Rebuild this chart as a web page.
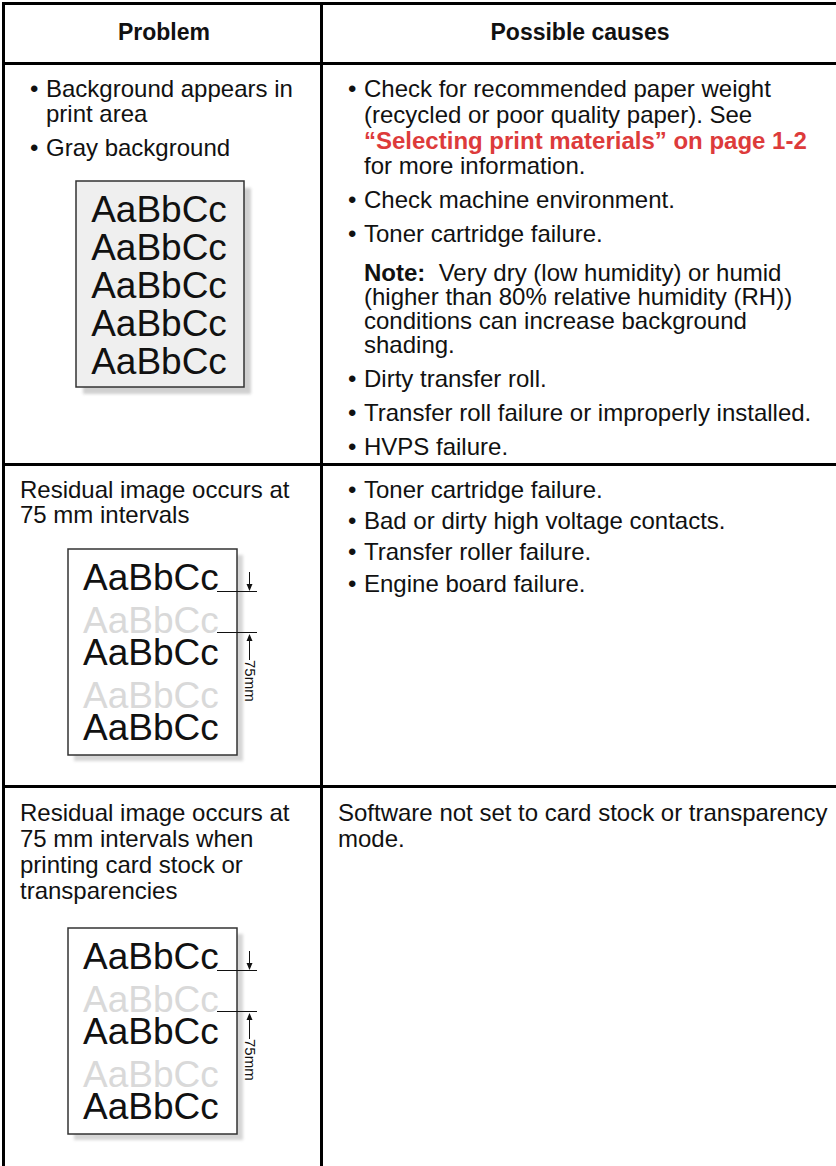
<!DOCTYPE html>
<html>
<head>
<meta charset="utf-8">
<script src="https://cdn.jsdelivr.net/npm/chart.js@4.4.1/dist/chart.umd.min.js"></script>
<style>
body { margin: 0; background: #fff; }
#page { position: relative; width: 836px; height: 1166px; overflow: hidden;
        font-family: "Liberation Sans", Arial, Helvetica, sans-serif; color: #111; }
.rule { position: absolute; background: #000; }
.ln { position: absolute; white-space: nowrap; font-size: 24px; line-height: 25px; }
.hd { position: absolute; white-space: nowrap; font-size: 23px; font-weight: bold; line-height: 25px; transform: translateX(-50%); }
.ref { color: #dd3b3b; font-weight: bold; }
svg { position: absolute; overflow: visible; }
</style>
</head>
<body>
<div id="page"></div>
<script>
// table content
var headers = ['Problem', 'Possible causes'];

var problems = [
    [{ type: 'bullet', lines: ['Background appears in', 'print area'] },
     { type: 'bullet', lines: ['Gray background'] }],
    [{ type: 'plain', lines: ['Residual image occurs at', '75 mm intervals'] }],
    [{ type: 'plain', lines: ['Residual image occurs at', '75 mm intervals when', 'printing card stock or', 'transparencies'] }]
];

var causes = [
    [{ type: 'bullet', lines: ['Check for recommended paper weight', '(recycled or poor quality paper). See',
                              '<span class="ref">“Selecting print materials” on page 1-2</span>', 'for more information.'] },
     { type: 'bullet', lines: ['Check machine environment.'] },
     { type: 'bullet', lines: ['Toner cartridge failure.'] },
     { type: 'note', lines: ['<b>Note:</b>&nbsp; Very dry (low humidity) or humid', '(higher than 80% relative humidity (RH))',
                            'conditions can increase background', 'shading.'] },
     { type: 'bullet', lines: ['Dirty transfer roll.'] },
     { type: 'bullet', lines: ['Transfer roll failure or improperly installed.'] },
     { type: 'bullet', lines: ['HVPS failure.'] }],
    [{ type: 'bullet', lines: ['Toner cartridge failure.'] },
     { type: 'bullet', lines: ['Bad or dirty high voltage contacts.'] },
     { type: 'bullet', lines: ['Transfer roller failure.'] },
     { type: 'bullet', lines: ['Engine board failure.'] }],
    [{ type: 'plain', lines: ['Software not set to card stock or transparency', 'mode.'] }]
];

var sampleText = 'AaBbCc';
var ghostRows = [false, true, false, true, false];
var intervalLabel = '75mm';

// layout
var leftY = [[88, 113, 147], [489, 514], [812, 838, 864, 890]];
var rightY = [[88, 114, 140, 165, 199, 233, 272, 296, 320, 344, 378, 412, 446],
              [489, 520, 551, 583],
              [812, 838]];

var page = document.getElementById('page');

function rule(x, y, w, h) {
    var d = document.createElement('div');
    d.className = 'rule';
    d.style.left = x + 'px'; d.style.top = y + 'px';
    d.style.width = w + 'px'; d.style.height = h + 'px';
    page.appendChild(d);
}

function line(x, yc, html, cls) {
    var d = document.createElement('div');
    d.className = cls || 'ln';
    d.style.left = x + 'px';
    d.style.top = (yc - 12) + 'px';
    d.innerHTML = html;
    page.appendChild(d);
}

function cell(items, ys, x0) {
    var k = 0;
    items.forEach(function (it) {
        it.lines.forEach(function (t, i) {
            if (it.type === 'bullet') {
                if (i === 0) line(x0 + 10, ys[k], '•');
                line(x0 + 26, ys[k], t);
            } else if (it.type === 'note') {
                line(x0 + 26, ys[k], t);
            } else {
                line(x0, ys[k], t);
            }
            k++;
        });
    });
}

// grid lines
rule(2, 2, 840, 3);
rule(2, 2, 3, 1170);
rule(320, 2, 3, 1170);
rule(2, 62, 840, 3);
rule(2, 463, 840, 3);
rule(2, 785, 840, 3);

line(164, 32, headers[0], 'hd');
line(580, 32, headers[1], 'hd');

problems.forEach(function (items, r) { cell(items, leftY[r], 20); });
causes.forEach(function (items, r) { cell(items, rightY[r], 338); });

function svgEl(inner) {
    var s = document.createElementNS('http://www.w3.org/2000/svg', 'svg');
    s.setAttribute('width', 836); s.setAttribute('height', 1166);
    s.style.left = '0px'; s.style.top = '0px';
    s.innerHTML = inner;
    page.appendChild(s);
}

var defs = '<defs><filter id="sh" x="-10%" y="-10%" width="130%" height="130%"><feGaussianBlur stdDeviation="1.5"/></filter></defs>';
var font = 'font-size="37" font-family="Liberation Sans, Arial"';

// gray background sample
(function () {
    var bx = 76, by = 181, bw = 168, bh = 206;
    var s = defs;
    s += '<rect x="' + (bx + 7) + '" y="' + (by + 7) + '" width="' + bw + '" height="' + bh + '" fill="#d0d0d0" filter="url(#sh)"/>';
    s += '<rect x="' + bx + '" y="' + by + '" width="' + bw + '" height="' + bh + '" fill="#efefef" stroke="#333" stroke-width="1.5"/>';
    s += '<text ' + font + ' fill="#111" text-anchor="middle">';
    for (var i = 0; i < 5; i++) {
        s += '<tspan x="' + (bx + bw / 2 - 1) + '" y="' + (by + 41 + i * 38) + '">' + sampleText + '</tspan>';
    }
    s += '</text>';
    svgEl(s);
})();

// residual image samples
function residual(by) {
    var bx = 68, bw = 169, bh = 206;
    var base = [41, 84, 116, 159, 191];
    var s = '';
    s += '<rect x="' + (bx + 6) + '" y="' + (by + 6) + '" width="' + bw + '" height="' + bh + '" fill="#d6d6d6" filter="url(#sh)"/>';
    s += '<rect x="' + bx + '" y="' + by + '" width="' + bw + '" height="' + bh + '" fill="#fff" stroke="#333" stroke-width="1.5"/>';
    s += '<text ' + font + '>';
    ghostRows.forEach(function (g, i) {
        s += '<tspan x="' + (bx + 15) + '" y="' + (by + base[i]) + '" fill="' + (g ? '#d9d9d9' : '#111') + '">' + sampleText + '</tspan>';
    });
    s += '</text>';
    var ax = 249.5;
    s += '<line x1="217" y1="' + (by + 42.5) + '" x2="257" y2="' + (by + 42.5) + '" stroke="#111" stroke-width="1"/>';
    s += '<line x1="217" y1="' + (by + 83.5) + '" x2="257" y2="' + (by + 83.5) + '" stroke="#111" stroke-width="1"/>';
    s += '<line x1="' + ax + '" y1="' + (by + 23) + '" x2="' + ax + '" y2="' + (by + 38) + '" stroke="#111" stroke-width="1"/>';
    s += '<path d="M' + (ax - 3) + ' ' + (by + 35) + ' L' + (ax + 3) + ' ' + (by + 35) + ' L' + ax + ' ' + (by + 42) + ' Z" fill="#111"/>';
    s += '<line x1="' + ax + '" y1="' + (by + 89) + '" x2="' + ax + '" y2="' + (by + 111) + '" stroke="#111" stroke-width="1"/>';
    s += '<path d="M' + (ax - 3) + ' ' + (by + 92) + ' L' + (ax + 3) + ' ' + (by + 92) + ' L' + ax + ' ' + (by + 85) + ' Z" fill="#111"/>';
    s += '<text transform="translate(' + (ax - 5) + ',' + (by + 111) + ') rotate(90)" font-size="15" font-family="Liberation Sans, Arial" fill="#111">' + intervalLabel + '</text>';
    svgEl(s);
}
residual(549);
residual(928);
</script>
</body>
</html>
